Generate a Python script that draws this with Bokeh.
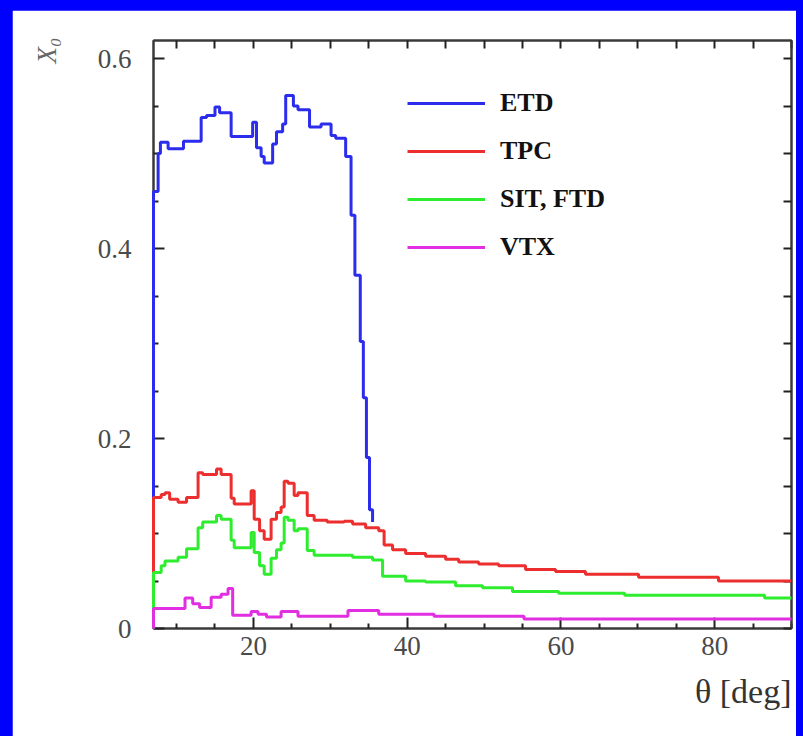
from bokeh.plotting import figure
from bokeh.models import (Range1d, FixedTicker, LinearAxis, Legend, LegendItem,
                          Label, Title)
from bokeh.embed import file_html
from bokeh.resources import INLINE
import math

try:
    from bokeh.models import GlobalInlineStyleSheet
except Exception:
    GlobalInlineStyleSheet = None

# ---------------- data ----------------
x_ticks = [20, 40, 60, 80]
x_minor = [10, 15, 25, 30, 35, 45, 50, 55, 65, 70, 75, 85, 90]
y_ticks = [0, 0.2, 0.4, 0.6]
y_tick_labels = ["0", "0.2", "0.4", "0.6"]
y_minor = [0.05, 0.1, 0.15, 0.25, 0.3, 0.35, 0.45, 0.5, 0.55]

series_names = ["ETD", "TPC", "SIT, FTD", "VTX"]

etd_edges = [7.0, 7.6, 7.9, 8.9, 10.9, 13.2, 13.9, 15.0, 15.6, 17.1, 19.9, 20.4,
             21.0, 21.4, 22.5, 23.0, 23.8, 24.2, 25.2, 25.8, 27.3, 28.8, 30.1,
             30.7, 32.0, 32.7, 33.2, 33.9, 34.3, 34.7, 35.1, 35.5]
etd_vals = [0.46, 0.50, 0.512, 0.505, 0.513, 0.538, 0.540, 0.549, 0.543, 0.518,
            0.533, 0.506, 0.497, 0.490, 0.510, 0.523, 0.531, 0.561, 0.550, 0.546,
            0.528, 0.531, 0.519, 0.516, 0.497, 0.435, 0.372, 0.302, 0.243, 0.180,
            0.125]
etd_end = 0.112

tpc_edges = [7.0, 8.0, 8.5, 9.1, 10.2, 11.3, 12.8, 13.4, 15.2, 15.8, 17.1, 17.5,
             19.7, 20.1, 20.8, 21.4, 22.3, 23.0, 23.6, 24.0, 24.5, 25.3, 25.8,
             27.0, 27.9, 29.6, 31.8, 32.9, 34.6, 36.3, 37.0, 38.1, 39.8, 42.4,
             45.0, 46.7, 49.3, 51.9, 55.4, 59.3, 63.2, 70.1, 80.5, 90.0]
tpc_vals = [0.138, 0.141, 0.143, 0.136, 0.133, 0.138, 0.164, 0.162, 0.168, 0.162,
            0.137, 0.131, 0.145, 0.115, 0.103, 0.094, 0.115, 0.122, 0.128, 0.155,
            0.153, 0.140, 0.143, 0.119, 0.114, 0.112, 0.113, 0.110, 0.106, 0.103,
            0.088, 0.083, 0.079, 0.076, 0.073, 0.070, 0.068, 0.066, 0.062, 0.060,
            0.057, 0.054, 0.050]

sit_edges = [7.0, 8.0, 8.5, 10.2, 11.3, 12.8, 13.4, 15.2, 15.8, 17.1, 17.5, 19.7,
             20.1, 20.8, 21.4, 22.3, 23.0, 23.6, 24.0, 24.5, 25.3, 25.8, 27.0,
             27.9, 32.9, 35.5, 36.8, 39.8, 42.4, 46.3, 49.8, 53.7, 59.7, 68.3,
             86.5, 90.0]
sit_vals = [0.059, 0.066, 0.071, 0.075, 0.084, 0.106, 0.112, 0.119, 0.115, 0.093,
            0.085, 0.101, 0.080, 0.066, 0.057, 0.074, 0.083, 0.090, 0.117, 0.114,
            0.103, 0.105, 0.082, 0.077, 0.075, 0.072, 0.055, 0.050, 0.049, 0.045,
            0.043, 0.039, 0.037, 0.035, 0.032]

vtx_edges = [7.0, 11.1, 12.1, 13.0, 14.5, 15.8, 16.7, 17.3, 19.7, 20.6, 21.7,
             23.6, 25.8, 32.3, 36.3, 43.5, 55.2, 90.0]
vtx_vals = [0.021, 0.032, 0.026, 0.022, 0.033, 0.036, 0.042, 0.014, 0.018, 0.015,
            0.012, 0.018, 0.013, 0.019, 0.015, 0.013, 0.010]

line_colors = ["#2c2cec", "#ec2e2e", "#2eec2e", "#e02ee0"]


def stairs(edges, vals, end=None):
    xs = [edges[0]] + list(edges)
    ys = [0.0] + list(vals) + [vals[-1] if end is None else end]
    return xs, ys


# ---------------- figure ----------------
W, H = 784, 726
p = figure(width=W, height=H, output_backend="svg", toolbar_location=None,
           x_range=Range1d(7, 90), y_range=Range1d(0, 0.619),
           min_border_left=141, min_border_right=5, min_border_top=30,
           min_border_bottom=108, x_axis_location=None, y_axis_location=None)
p.background_fill_color = "white"
p.border_fill_color = "white"
p.xgrid.visible = False
p.ygrid.visible = False
p.outline_line_color = "#3a3a3a"
p.outline_line_width = 2

if GlobalInlineStyleSheet is not None:
    p.stylesheets = [GlobalInlineStyleSheet(css=(
        "html{background:#0000ff;overflow:hidden;}"
        "body{background:#0000ff;margin:10px 0 0 12px;overflow:hidden;}"))]

FONT = "Liberation Serif"


def style_axis(ax):
    ax.axis_line_color = "#3a3a3a"
    ax.axis_line_width = 2
    ax.major_tick_line_color = "#222222"
    ax.minor_tick_line_color = "#222222"
    ax.major_tick_line_width = 2
    ax.minor_tick_line_width = 2
    ax.major_tick_in = 11
    ax.major_tick_out = 0
    ax.minor_tick_in = 5
    ax.minor_tick_out = 0
    ax.major_label_text_font = FONT
    ax.major_label_text_color = "#4a4a4a"
    ax.major_label_text_font_size = "27px"


bottom = LinearAxis(ticker=FixedTicker(ticks=x_ticks, minor_ticks=x_minor))
style_axis(bottom)
bottom.major_label_standoff = 8
left = LinearAxis(ticker=FixedTicker(ticks=y_ticks, minor_ticks=y_minor))
style_axis(left)
left.major_label_standoff = 22
left.major_label_overrides = {t: s for t, s in zip(y_ticks, y_tick_labels)}

# mirrored axes: tick marks only (no labels)
top = LinearAxis(ticker=FixedTicker(ticks=[], minor_ticks=sorted(x_ticks + x_minor)))
style_axis(top)
top.minor_tick_in = 8
top.major_label_standoff = 0
right = LinearAxis(ticker=FixedTicker(ticks=[], minor_ticks=sorted(y_ticks + y_minor)))
style_axis(right)
right.minor_tick_in = 8
right.major_label_standoff = 0

p.add_layout(bottom, "below")
p.add_layout(left, "left")
p.add_layout(top, "above")
p.add_layout(right, "right")

all_data = [(etd_edges, etd_vals, etd_end), (tpc_edges, tpc_vals, None),
            (sit_edges, sit_vals, None), (vtx_edges, vtx_vals, None)]
items = []
for (e, v, end), c, name in zip(all_data, line_colors, series_names):
    xs, ys = stairs(e, v, end)
    r = p.step(xs, ys, mode="after", line_color=c, line_width=3)
    r.level = "overlay"
    items.append(LegendItem(label=name, renderers=[r]))

legend = Legend(items=items, location=(254, 366), padding=0, margin=0,
                spacing=18, glyph_width=78, glyph_height=24, label_height=24,
                label_standoff=15, border_line_color=None,
                background_fill_alpha=0)
legend.label_text_font = FONT
legend.label_text_font_style = "bold"
legend.label_text_font_size = "26px"
legend.label_text_color = "#111111"
p.add_layout(legend, "center")

# y title: a label in the left side panel (outside the tick labels)
p.add_layout(Label(x=-18, y=578, x_units="screen", y_units="screen",
                   text="X\u2080", angle=math.pi / 2, text_align="center",
                   text_baseline="middle", text_font=FONT,
                   text_font_style="italic", text_font_size="27px",
                   text_color="#666666"), "left")
# x title
xlab = Title(text="\u03b8 [deg]", align="right", text_font=FONT,
             text_font_style="normal", text_font_size="34px",
             text_color="#333333", standoff=27)
p.add_layout(xlab, "below")

open("out.html", "w").write(file_html(p, INLINE))
